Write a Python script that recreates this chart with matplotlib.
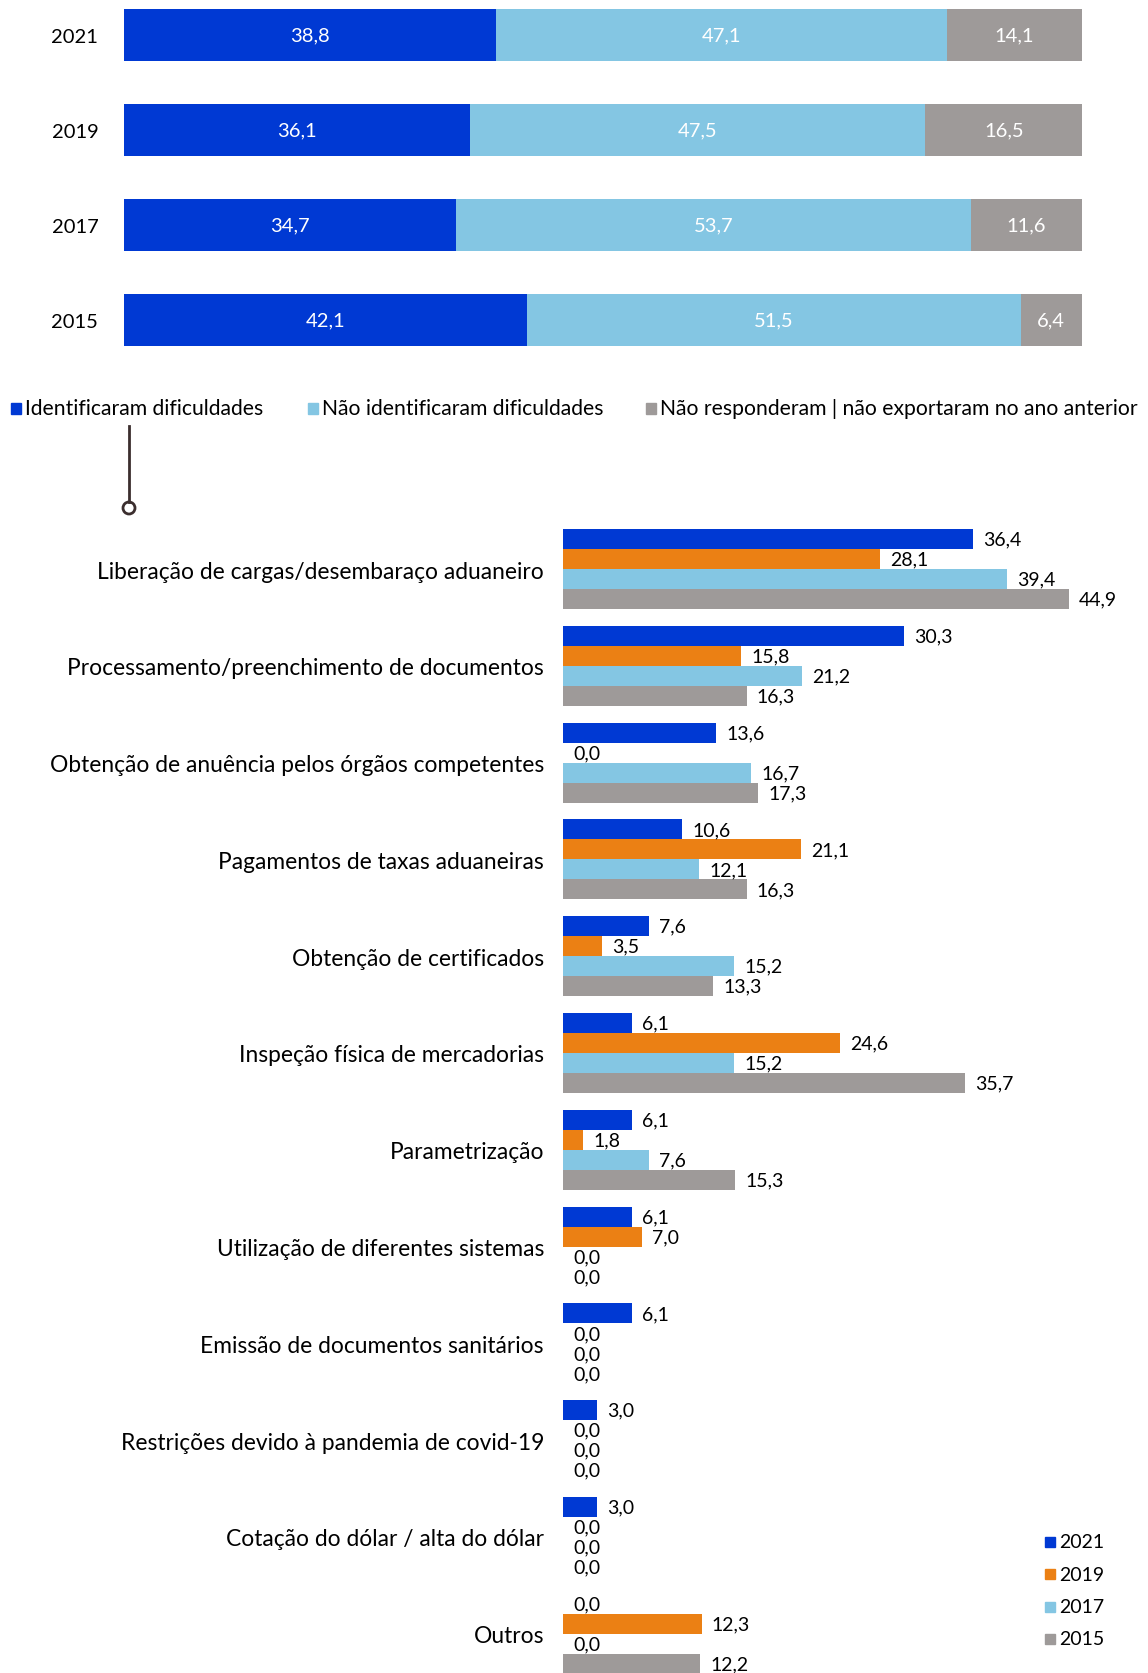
import numpy as np
import matplotlib.pyplot as plt
import matplotlib
from matplotlib.patches import Rectangle, Ellipse
from matplotlib.lines import Line2D

matplotlib.rc('font', family=['Lato', 'DejaVu Sans'], size=14)

W, H = 1148, 1674

# top chart data
top_years = ['2021', '2019', '2017', '2015']
identified = [38.8, 36.1, 34.7, 42.1]
not_identified = [47.1, 47.5, 53.7, 51.5]
no_answer = [14.1, 16.5, 11.6, 6.4]
top_labels = ['Identificaram dificuldades', 'Não identificaram dificuldades',
              'Não responderam | não exportaram no ano anterior']

# bottom chart data
categories = ['Liberação de cargas/desembaraço aduaneiro',
              'Processamento/preenchimento de documentos',
              'Obtenção de anuência pelos órgãos competentes',
              'Pagamentos de taxas aduaneiras',
              'Obtenção de certificados',
              'Inspeção física de mercadorias',
              'Parametrização',
              'Utilização de diferentes sistemas',
              'Emissão de documentos sanitários',
              'Restrições devido à pandemia de covid-19',
              'Cotação do dólar / alta do dólar',
              'Outros']
v2021 = [36.4, 30.3, 13.6, 10.6, 7.6, 6.1, 6.1, 6.1, 6.1, 3.0, 3.0, 0.0]
v2019 = [28.1, 15.8, 0.0, 21.1, 3.5, 24.6, 1.8, 7.0, 0.0, 0.0, 0.0, 12.3]
v2017 = [39.4, 21.2, 16.7, 12.1, 15.2, 15.2, 7.6, 0.0, 0.0, 0.0, 0.0, 0.0]
v2015 = [44.9, 16.3, 17.3, 16.3, 13.3, 35.7, 15.3, 0.0, 0.0, 0.0, 0.0, 12.2]
series_years = ['2021', '2019', '2017', '2015']

c_blue = '#0039D3'
c_orange = '#EB8014'
c_light = '#84C6E3'
c_gray = '#9E9A99'
c_dark = '#3B2E2E'


def fmt(v):
    return ('%.1f' % v).replace('.', ',')


fig = plt.figure(figsize=(W / 100, H / 100), dpi=100)

# ---- top stacked chart ----
ax1 = fig.add_axes([124 / W, 1 - 347 / H, (1082 - 124) / W, 337 / H])
h = 0.547
y = np.arange(len(top_years))
left = np.zeros(len(top_years))
for vals, col in zip([identified, not_identified, no_answer], [c_blue, c_light, c_gray]):
    ax1.barh(y, vals, left=left, height=h, color=col, edgecolor='none')
    for yi, l, v in zip(y, left, vals):
        ax1.text(l + v / 2, yi, fmt(v), color='white', ha='center', va='center', fontsize=14.5)
    left = left + np.array(vals)
ax1.set_xlim(0, 100)
ax1.set_ylim(3 + h / 2, -h / 2)
ax1.set_yticks(y)
ax1.set_yticklabels(top_years, fontsize=14.5)
ax1.tick_params(axis='y', length=0, pad=18.5)
ax1.set_xticks([])
for s in ax1.spines.values():
    s.set_visible(False)

# top legend
leg_x = [11, 308, 646]
for x0, lab, col in zip(leg_x, top_labels, [c_blue, c_light, c_gray]):
    fig.patches.append(Rectangle((x0 / W, 1 - 415 / H), 10 / W, 11 / H, color=col,
                                 transform=fig.transFigure))
    fig.text((x0 + 14) / W, 1 - 409 / H, lab, ha='left', va='center', fontsize=15.2)

# connector
fig.add_artist(Line2D([129 / W, 129 / W], [1 - 427 / H, 1 - 503 / H], color=c_dark, lw=2))
fig.add_artist(Ellipse((129 / W, 1 - 509 / H), 12 / W, 12 / H, transform=fig.transFigure,
                       facecolor='white', edgecolor=c_dark, lw=2))

# ---- bottom grouped chart ----
ax2 = fig.add_axes([563 / W, 0, 563.5 / W, (H - 530) / H])
pitch = 4.84
n = len(categories)
gy = np.arange(n) * pitch
for j, (vals, col) in enumerate(zip([v2021, v2019, v2017, v2015],
                                    [c_blue, c_orange, c_light, c_gray])):
    ax2.barh(gy + j + 0.5, vals, height=1.0, color=col, edgecolor='none',
             label=series_years[j])
    for yy, v in zip(gy + j + 0.5, vals):
        ax2.text(v + 0.9, yy, fmt(v), ha='left', va='center', fontsize=14)
ax2.set_xlim(0, 50)
ax2.set_ylim((H - 530) / 20.0, 0)
ax2.set_yticks(gy + 2)
ax2.set_yticklabels(categories, fontsize=16.4)
ax2.tick_params(axis='y', length=0, pad=13.7)
ax2.set_xticks([])
for s in ax2.spines.values():
    s.set_visible(False)

# bottom legend
for k, (lab, col) in enumerate(zip(series_years, [c_blue, c_orange, c_light, c_gray])):
    yc = 1543 + k * 32.3
    fig.patches.append(Rectangle((1045 / W, 1 - (yc + 5) / H), 10 / W, 10 / H, color=col,
                                 transform=fig.transFigure))
    fig.text(1059 / W, 1 - yc / H, lab, ha='left', va='center', fontsize=14)

plt.savefig('out.png', dpi=100)
